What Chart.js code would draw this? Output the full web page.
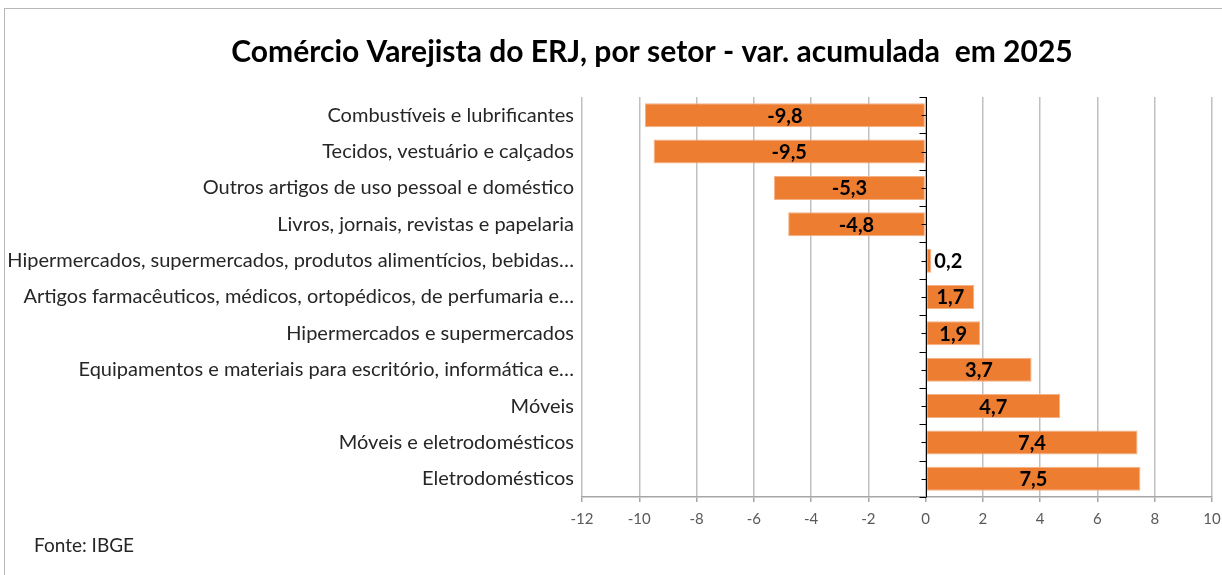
<!DOCTYPE html>
<html>
<head>
<meta charset="utf-8">
<script src="https://cdn.jsdelivr.net/npm/chart.js@4.4.1/dist/chart.umd.min.js"></script>
<style>
  html, body { margin: 0; padding: 0; background: #ffffff; }
  #wrap { position: relative; width: 1222px; height: 575px; }
  #frame { position: absolute; left: 4px; top: 8px; right: -2px; bottom: -2px; border-left: 1.5px solid #b8b8b8; border-top: 1.5px solid #b8b8b8; pointer-events: none; }
  canvas { position: absolute; left: 0; top: 0; }
</style>
</head>
<body>
<div id="wrap">
  <canvas id="c" width="1222" height="575"></canvas>
  <div id="frame"></div>
</div>
<script>
const titleText = "Comércio Varejista do ERJ, por setor - var. acumulada  em 2025";
const sourceText = "Fonte: IBGE";
const categories = [
  "Combustíveis e lubrificantes",
  "Tecidos, vestuário e calçados",
  "Outros artigos de uso pessoal e doméstico",
  "Livros, jornais, revistas e papelaria",
  "Hipermercados, supermercados, produtos alimentícios, bebidas…",
  "Artigos farmacêuticos, médicos, ortopédicos, de perfumaria e…",
  "Hipermercados e supermercados",
  "Equipamentos e materiais para escritório, informática e…",
  "Móveis",
  "Móveis e eletrodomésticos",
  "Eletrodomésticos"
];
const values = [-9.8, -9.5, -5.3, -4.8, 0.2, 1.7, 1.9, 3.7, 4.7, 7.4, 7.5];
const xMin = -12, xMax = 10, xStep = 2;

const FONT = "Lato, 'Open Sans', sans-serif";
const fmt = v => v.toFixed(1).replace('.', ',');

const decorPlugin = {
  id: 'decor',
  afterDatasetsDraw(chart) {
    const ctx = chart.ctx, x = chart.scales.x;
    const x0 = Math.round(x.getPixelForValue(0)) + 0.5;
    const top = chart.chartArea.top, bottom = chart.chartArea.bottom;
    const n = categories.length, h = (bottom - top) / n;
    ctx.save();
    ctx.strokeStyle = '#000000';
    ctx.lineWidth = 1;
    ctx.beginPath();
    ctx.moveTo(x0, top); ctx.lineTo(x0, bottom);
    for (let i = 0; i <= n; i++) {
      const yy = Math.round(top + i * h) + 0.5;
      ctx.moveTo(x0 - 7, yy); ctx.lineTo(x0, yy);
    }
    for (let i = 0; i < n; i++) {
      const yy = Math.round(top + (i + 0.5) * h) + 0.5;
      ctx.moveTo(x0 - 5, yy); ctx.lineTo(x0, yy);
    }
    ctx.stroke();
    // data labels
    ctx.font = "bold 20px " + FONT;
    ctx.fillStyle = '#000000';
    ctx.textBaseline = 'middle';
    const meta = chart.getDatasetMeta(0);
    meta.data.forEach((bar, i) => {
      const txt = fmt(values[i]);
      const w = ctx.measureText(txt).width;
      const barW = Math.abs(bar.x - bar.base);
      if (barW < w + 4) {
        ctx.textAlign = 'left';
        ctx.fillText(txt, Math.max(bar.x, bar.base) + 3, bar.y + 1);
      } else {
        ctx.textAlign = 'center';
        ctx.fillText(txt, (bar.x + bar.base) / 2, bar.y + 1);
      }
    });
    // title
    ctx.font = "bold 30px " + FONT;
    ctx.textAlign = 'center';
    ctx.fillStyle = '#000000';
    ctx.fillText(titleText, 652, 52);
    // source
    ctx.font = "19px " + FONT;
    ctx.fillStyle = '#262626';
    ctx.textAlign = 'left';
    ctx.fillText(sourceText, 34, 546);
    ctx.restore();
  }
};

new Chart(document.getElementById('c'), {
  type: 'bar',
  data: {
    labels: categories,
    datasets: [{
      data: values,
      backgroundColor: '#ED7D31',
      borderColor: '#F4B183',
      borderWidth: 1,
      borderSkipped: false,
      barPercentage: 0.66,
      categoryPercentage: 1.0
    }]
  },
  options: {
    indexAxis: 'y',
    responsive: false,
    animation: false,
    devicePixelRatio: 1,
    layout: { padding: { left: 0, right: 10, top: 97, bottom: 39 } },
    plugins: {
      legend: { display: false },
      tooltip: { enabled: false },
      title: { display: false }
    },
    scales: {
      x: {
        min: xMin, max: xMax,
        ticks: { stepSize: xStep, color: '#595959', font: { family: FONT, size: 15 }, padding: 8 },
        grid: { color: '#c0c0c0', lineWidth: 1.5, drawTicks: true, tickLength: 5, tickColor: '#a6a6a6' },
        border: { display: true, color: '#a6a6a6', width: 1.5 },
        afterFit(scale) { scale.paddingLeft = 0; scale.paddingRight = 0; }
      },
      y: {
        grid: { display: false },
        border: { display: false },
        ticks: { color: '#262626', font: { family: FONT, size: 20 }, padding: 0, autoSkip: false },
        afterFit(scale) { scale.width = 582; }
      }
    }
  },
  plugins: [decorPlugin]
});
</script>
</body>
</html>
